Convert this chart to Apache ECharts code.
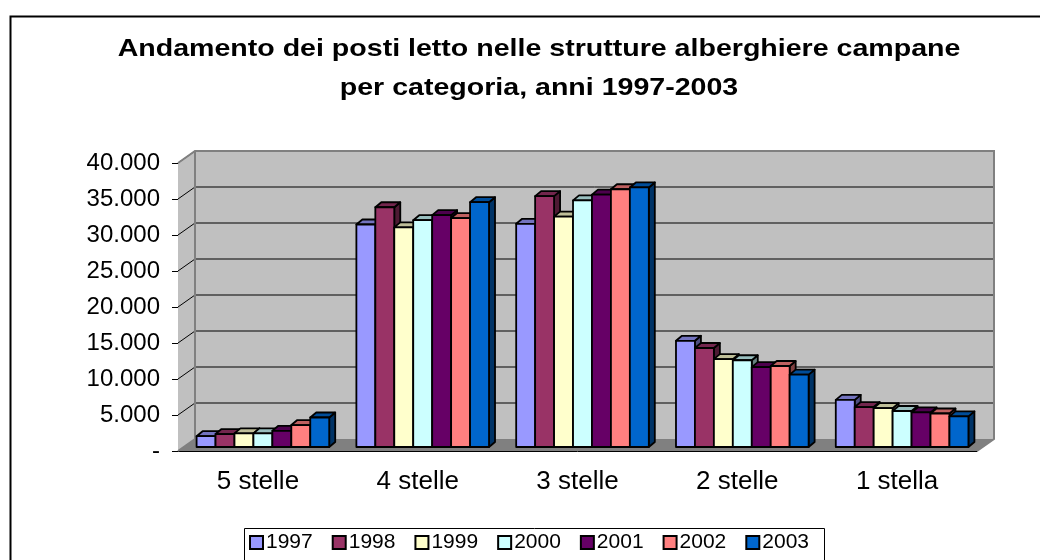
<!DOCTYPE html>
<html lang="it">
<head>
    <meta charset="UTF-8">
    <title>Posti letto strutture alberghiere campane</title>
    <style>
        html, body { margin: 0; padding: 0; background: #fff; }
        #chart { width: 1040px; height: 560px; }
    </style>
</head>
<body>
<div id="chart"></div>
<script src="https://cdn.jsdelivr.net/npm/echarts@6/dist/echarts.min.js"></script>
<script>
    const categories = ['5 stelle', '4 stelle', '3 stelle', '2 stelle', '1 stella'];
    const years = ['1997', '1998', '1999', '2000', '2001', '2002', '2003'];
    const v1997 = [1500, 30900, 31000, 14750, 6550];
    const v1998 = [1800, 33300, 34850, 13750, 5550];
    const v1999 = [1900, 30500, 32000, 12200, 5400];
    const v2000 = [1900, 31500, 34250, 12050, 5000];
    const v2001 = [2250, 32200, 35050, 11100, 4800];
    const v2002 = [3050, 31800, 35800, 11250, 4650];
    const v2003 = [4100, 34000, 36050, 10050, 4250];
    const yTicks = [0, 5000, 10000, 15000, 20000, 25000, 30000, 35000, 40000];
    const titleLines = ['Andamento dei posti letto nelle strutture alberghiere campane', 'per categoria, anni 1997-2003'];

    const seriesValues = [v1997, v1998, v1999, v2000, v2001, v2002, v2003];
    const colors = ['#9999FF', '#993366', '#FFFFCC', '#CCFFFF', '#660066', '#FF8080', '#0066CC'];

    // profondità della "scatola" 3D e delle barre
    const DX = 17, DY = 12;
    const BDX = 6, BDY = 5;
    const BAR_OX = 5, BAR_OY = -4;

    function shade(hex, k) {
        const n = parseInt(hex.slice(1), 16);
        const r = Math.round(((n >> 16) & 255) * k);
        const g = Math.round(((n >> 8) & 255) * k);
        const b = Math.round((n & 255) * k);
        return 'rgb(' + r + ',' + g + ',' + b + ')';
    }

    function fmt(v) {
        if (v === 0) return '-';
        return String(v).replace(/\B(?=(\d{3})+(?!\d))/g, '.');
    }

    /*pareti e griglia*/
    function renderWalls(params, api) {
        const cs = params.coordSys;
        const l = cs.x, r = cs.x + cs.width, t = cs.y, b = cs.y + cs.height;
        const wallStroke = {stroke: '#808080', lineWidth: 2};
        const children = [
            {type: 'polygon', shape: {points: [[l, t], [l + DX, t - DY], [l + DX, b - DY], [l, b]]},
                style: {fill: '#C0C0C0'}},
            {type: 'rect', shape: {x: l + DX, y: t - DY, width: r - l, height: b - t},
                style: {fill: '#C0C0C0'}},
            {type: 'polygon', shape: {points: [[l, b], [r, b], [r + DX, b - DY], [l + DX, b - DY]]},
                style: {fill: '#808080'}}
        ];
        for (const v of yTicks) {
            if (v === 0) continue;
            const y = api.coord([0, v])[1];
            children.push({type: 'line', shape: {x1: l + DX, y1: y - DY, x2: r + DX, y2: y - DY},
                style: {stroke: '#000', lineWidth: 1}});
            children.push({type: 'line', shape: {x1: l, y1: y, x2: l + DX, y2: y - DY},
                style: {stroke: '#000', lineWidth: 1}});
        }
        children.push({type: 'polyline', shape: {points: [[l, t], [l + DX, t - DY], [r + DX, t - DY], [r + DX, b - DY], [r, b]]},
            style: Object.assign({fill: null}, wallStroke)});
        children.push({type: 'line', shape: {x1: l + DX, y1: t - DY, x2: l + DX, y2: b - DY}, style: wallStroke});
        children.push({type: 'line', shape: {x1: l, y1: b, x2: l + DX, y2: b - DY}, style: wallStroke});
        return {type: 'group', children: children};
    }

    /*barre 3D*/
    function makeBarRenderer(si) {
        return function (params, api) {
            const c = api.value(0);
            const v = api.value(1);
            const base = api.coord([c, 0]);
            const top = api.coord([c, v]);
            const band = api.size([1, 0])[0];
            const w = band * 0.83 / years.length;
            const x0 = base[0] - w * years.length / 2 + si * w + BAR_OX;
            const yb = base[1] + BAR_OY;
            const yt = top[1] + BAR_OY;
            const col = colors[si];
            const edge = {stroke: '#000', lineWidth: 1.8, lineJoin: 'round'};
            return {
                type: 'group',
                children: [
                    {type: 'polygon', shape: {points: [[x0 + w, yt], [x0 + w + BDX, yt - BDY], [x0 + w + BDX, yb - BDY], [x0 + w, yb]]},
                        style: Object.assign({fill: shade(col, 0.5)}, edge)},
                    {type: 'polygon', shape: {points: [[x0, yt], [x0 + w, yt], [x0 + w + BDX, yt - BDY], [x0 + BDX, yt - BDY]]},
                        style: Object.assign({fill: shade(col, 0.75)}, edge)},
                    {type: 'rect', shape: {x: x0, y: yt, width: w, height: yb - yt},
                        style: Object.assign({fill: col}, edge)}
                ]
            };
        };
    }

    const chart = echarts.init(document.getElementById('chart'));

    const series = [{
        type: 'custom',
        name: 'walls',
        renderItem: renderWalls,
        data: [[0, 0]],
        silent: true,
        z: 1
    }];
    years.forEach((y, i) => {
        series.push({
            type: 'custom',
            name: y,
            renderItem: makeBarRenderer(i),
            itemStyle: {color: colors[i]},
            data: seriesValues[i].map((v, c) => [c, v]),
            z: 2 + i
        });
    });

    const titleFont = 'bold 24px "Liberation Sans", Arial, sans-serif';

    const option = {
        animation: false,
        textStyle: {fontFamily: 'Liberation Sans, Arial, sans-serif'},
        legend: {
            data: years,
            left: 249,
            top: 532,
            padding: 0,
            icon: 'rect',
            itemWidth: 13,
            itemHeight: 13,
            itemGap: 19,
            itemStyle: {borderColor: '#000', borderWidth: 2},
            textStyle: {fontSize: 21, color: '#000', padding: [2, 0, 0, -2]}
        },
        grid: {left: 178, right: 63, top: 163, bottom: 109},
        xAxis: {
            type: 'category',
            data: categories,
            axisLine: {lineStyle: {color: '#000', width: 1}},
            axisTick: {length: 6, lineStyle: {color: '#000'}},
            axisLabel: {fontSize: 26, color: '#000', margin: 18}
        },
        yAxis: {
            type: 'value',
            min: 0,
            max: 40000,
            interval: 5000,
            axisLine: {show: true, lineStyle: {color: '#000', width: 1}},
            axisTick: {show: true, length: 6, lineStyle: {color: '#000'}},
            splitLine: {show: false},
            axisLabel: {fontSize: 24, color: '#000', margin: 18, formatter: fmt}
        },
        graphic: [
            {type: 'rect', left: 8, top: 14, shape: {width: 1100, height: 600},
                style: {fill: null, stroke: '#000', lineWidth: 2}, z: 0},
            {type: 'rect', left: 242, top: 526, shape: {width: 580, height: 60},
                style: {fill: null, stroke: '#000', lineWidth: 1}, z: 0},
            {type: 'text', x: 539, y: 49, scaleX: 1.19,
                style: {text: titleLines[0], font: titleFont, fill: '#000', textAlign: 'center', textVerticalAlign: 'middle'}},
            {type: 'text', x: 539, y: 88, scaleX: 1.19,
                style: {text: titleLines[1], font: titleFont, fill: '#000', textAlign: 'center', textVerticalAlign: 'middle'}}
        ],
        series: series
    };
    chart.setOption(option);
</script>
</body>
</html>
